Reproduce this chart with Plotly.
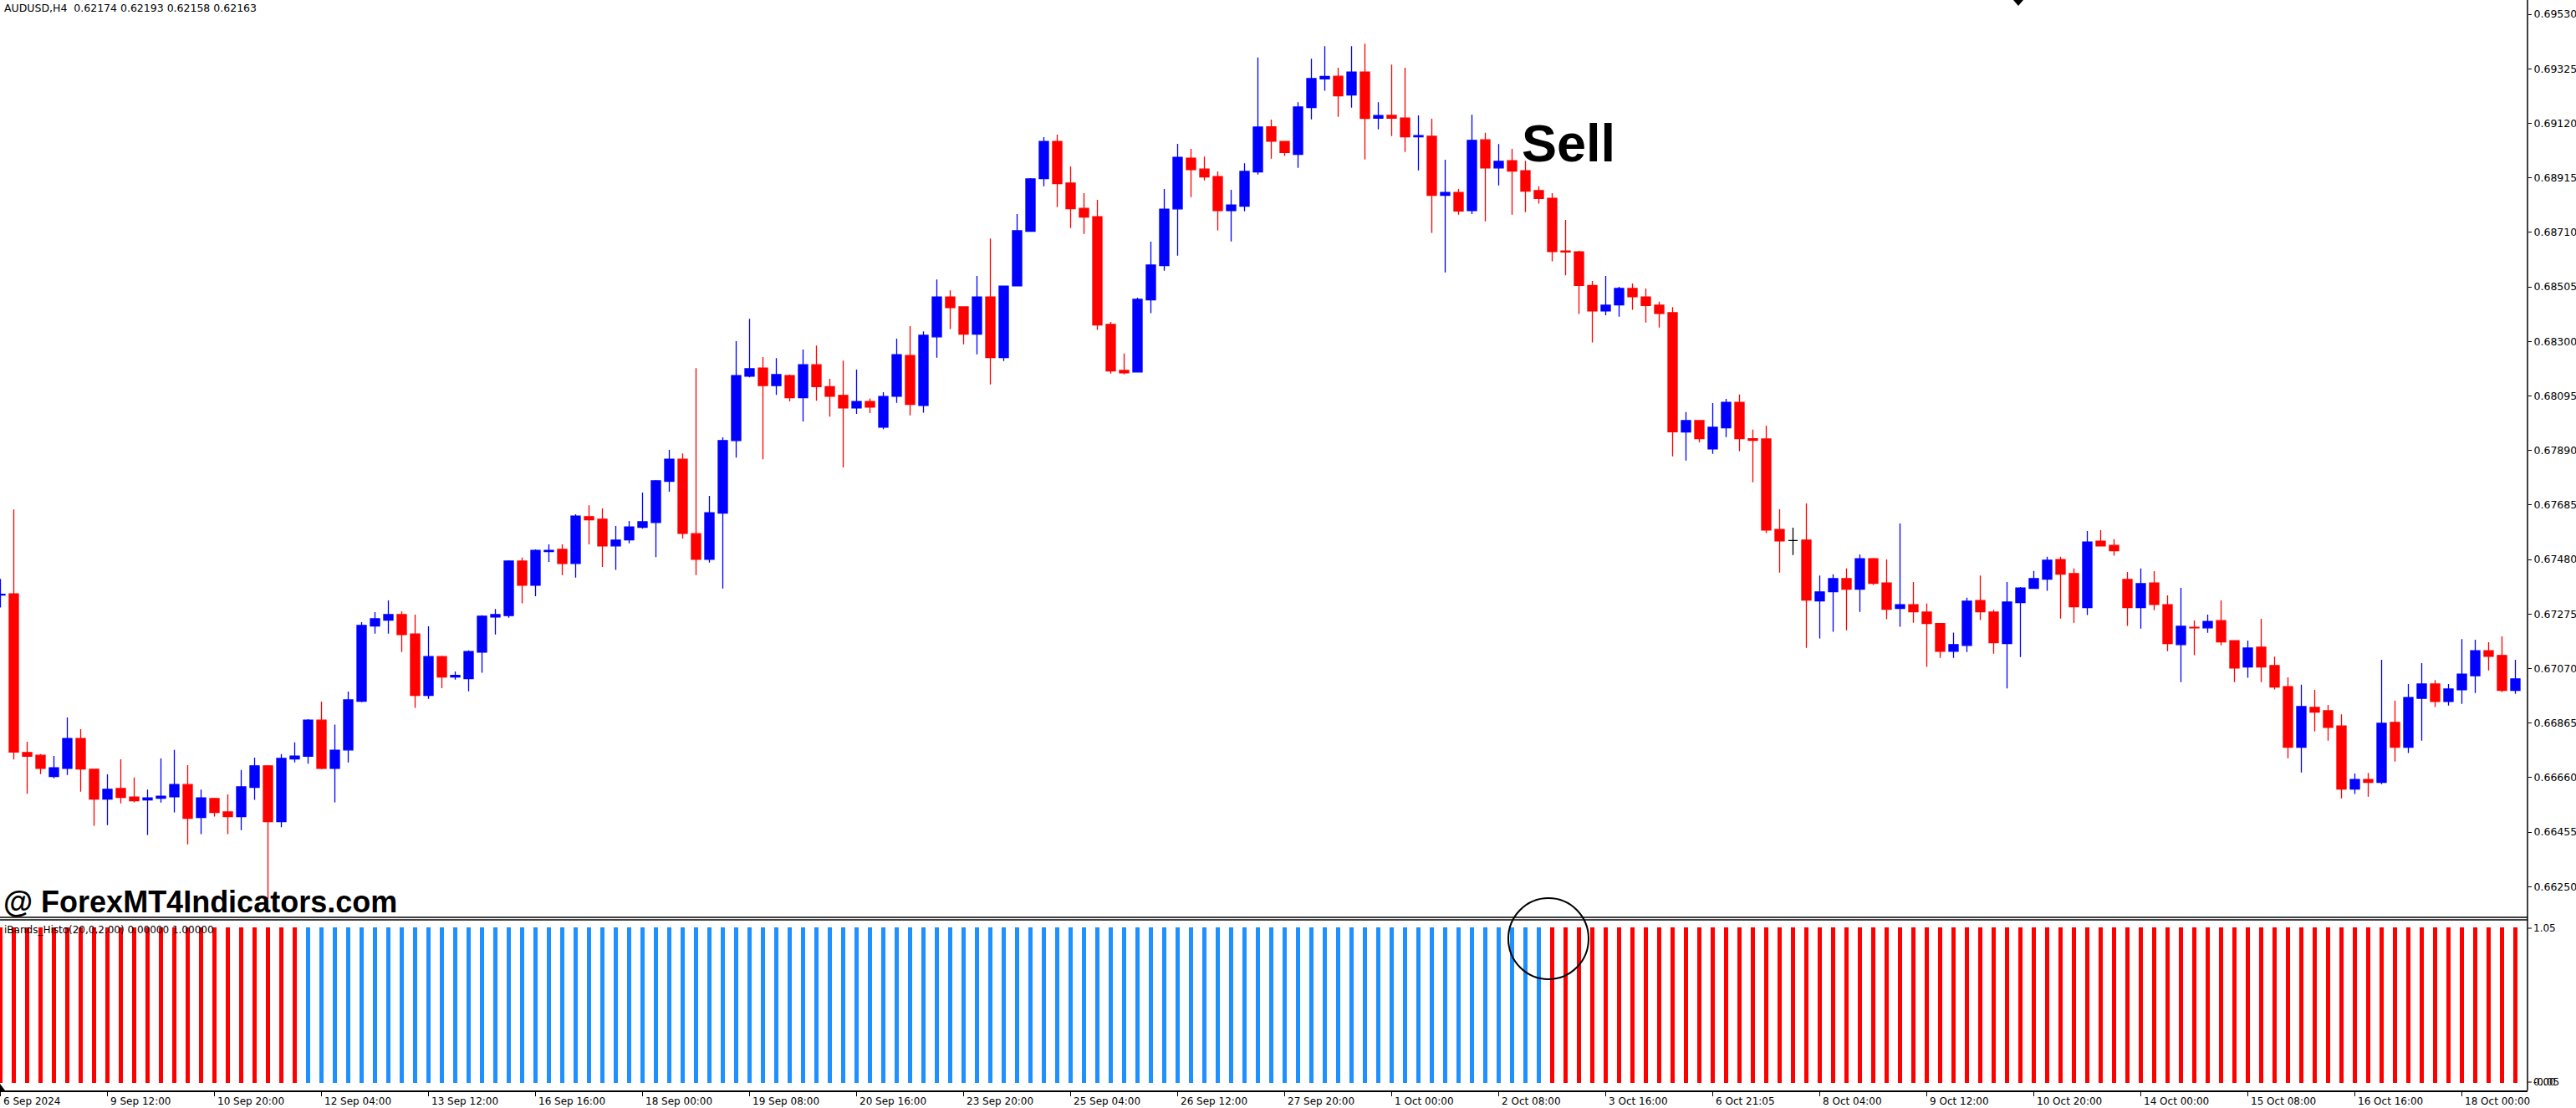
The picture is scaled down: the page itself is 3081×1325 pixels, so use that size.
import plotly.graph_objects as go

# ---------------- data (AUDUSD H4) ----------------
open_ = [
    0.67346, 0.67351, 0.66754, 0.66744, 0.66664, 0.66695, 0.66807, 0.66691, 0.66579, 0.66619,
    0.66587, 0.66576, 0.66582, 0.66588, 0.66634, 0.66510, 0.66581, 0.66531, 0.66513, 0.66623,
    0.66704, 0.66494, 0.66730, 0.66740, 0.66876, 0.66695, 0.66764, 0.66947, 0.67230, 0.67252,
    0.67273, 0.67200, 0.66969, 0.67115, 0.67038, 0.67032, 0.67132, 0.67264, 0.67269, 0.67474,
    0.67383, 0.67510, 0.67518, 0.67465, 0.67641, 0.67631, 0.67531, 0.67554, 0.67601, 0.67619,
    0.67774, 0.67857, 0.67577, 0.67481, 0.67654, 0.67927, 0.68169, 0.68200, 0.68134, 0.68171,
    0.68088, 0.68212, 0.68130, 0.68097, 0.68050, 0.68074, 0.67977, 0.68094, 0.68247, 0.68059,
    0.68317, 0.68467, 0.68430, 0.68327, 0.68467, 0.68239, 0.68509, 0.68714, 0.68912, 0.69052,
    0.68895, 0.68800, 0.68769, 0.68364, 0.68191, 0.68185, 0.68456, 0.68585, 0.68798, 0.68989,
    0.68948, 0.68920, 0.68792, 0.68808, 0.68937, 0.69107, 0.69052, 0.69003, 0.69179, 0.69287,
    0.69297, 0.69226, 0.69313, 0.69139, 0.69150, 0.69140, 0.69069, 0.69071, 0.68849, 0.68860,
    0.68792, 0.69058, 0.68952, 0.68979, 0.68942, 0.68867, 0.68838, 0.68640, 0.68637, 0.68510,
    0.68414, 0.68437, 0.68499, 0.68467, 0.68436, 0.68408, 0.67959, 0.68002, 0.67896, 0.67975,
    0.68071, 0.67934, 0.67933, 0.67593, 0.67551, 0.67553, 0.67324, 0.67359, 0.67408, 0.67368,
    0.67483, 0.67392, 0.67296, 0.67310, 0.67282, 0.67239, 0.67135, 0.67157, 0.67326, 0.67282,
    0.67164, 0.67318, 0.67371, 0.67406, 0.67480, 0.67427, 0.67299, 0.67549, 0.67533, 0.67405,
    0.67299, 0.67392, 0.67310, 0.67160, 0.67225, 0.67223, 0.67250, 0.67175, 0.67076, 0.67150,
    0.67081, 0.67002, 0.66774, 0.66924, 0.66911, 0.66854, 0.66617, 0.66653, 0.66642, 0.66867,
    0.66774, 0.66958, 0.67012, 0.66946, 0.66990, 0.67043, 0.67137, 0.67119, 0.66988,
]
high = [
    0.67407, 0.67668, 0.66795, 0.66748, 0.66741, 0.66886, 0.66842, 0.66693, 0.66672, 0.66729,
    0.66660, 0.66615, 0.66732, 0.66764, 0.66707, 0.66615, 0.66584, 0.66597, 0.66689, 0.66735,
    0.66707, 0.66748, 0.66792, 0.66880, 0.66946, 0.66859, 0.66983, 0.67244, 0.67282, 0.67326,
    0.67285, 0.67273, 0.67229, 0.67118, 0.67059, 0.67138, 0.67270, 0.67294, 0.67477, 0.67487,
    0.67518, 0.67537, 0.67537, 0.67650, 0.67684, 0.67672, 0.67606, 0.67625, 0.67732, 0.67779,
    0.67892, 0.67879, 0.68199, 0.67719, 0.67939, 0.68301, 0.68385, 0.68241, 0.68237, 0.68175,
    0.68269, 0.68284, 0.68159, 0.68228, 0.68194, 0.68085, 0.68109, 0.68310, 0.68357, 0.68338,
    0.68533, 0.68492, 0.68432, 0.68546, 0.68687, 0.68510, 0.68779, 0.68914, 0.69068, 0.69077,
    0.68958, 0.68857, 0.68832, 0.68373, 0.68254, 0.68464, 0.68675, 0.68873, 0.69043, 0.69024,
    0.68995, 0.68939, 0.68870, 0.68970, 0.69367, 0.69134, 0.69053, 0.69199, 0.69363, 0.69410,
    0.69329, 0.69410, 0.69419, 0.69199, 0.69341, 0.69329, 0.69150, 0.69137, 0.68983, 0.68873,
    0.69152, 0.69084, 0.69042, 0.69024, 0.68979, 0.68883, 0.68857, 0.68757, 0.68640, 0.68527,
    0.68546, 0.68505, 0.68518, 0.68499, 0.68449, 0.68429, 0.68034, 0.68004, 0.68068, 0.68084,
    0.68100, 0.67968, 0.67983, 0.67669, 0.67600, 0.67691, 0.67420, 0.67424, 0.67446, 0.67499,
    0.67486, 0.67480, 0.67615, 0.67395, 0.67314, 0.67241, 0.67205, 0.67336, 0.67420, 0.67291,
    0.67395, 0.67376, 0.67437, 0.67490, 0.67490, 0.67446, 0.67587, 0.67590, 0.67556, 0.67433,
    0.67446, 0.67436, 0.67345, 0.67373, 0.67251, 0.67273, 0.67326, 0.67177, 0.67175, 0.67257,
    0.67115, 0.67037, 0.67009, 0.66990, 0.66933, 0.66898, 0.66675, 0.66678, 0.67103, 0.66949,
    0.67012, 0.67090, 0.67027, 0.67012, 0.67181, 0.67178, 0.67169, 0.67191, 0.67103,
]
low = [
    0.67299, 0.66728, 0.66599, 0.66673, 0.66657, 0.66670, 0.66607, 0.66479, 0.66481, 0.66563,
    0.66567, 0.66444, 0.66566, 0.66529, 0.66409, 0.66447, 0.66513, 0.66447, 0.66462, 0.66576,
    0.66204, 0.66473, 0.66717, 0.66712, 0.66692, 0.66567, 0.66717, 0.66943, 0.67201, 0.67201,
    0.67132, 0.66922, 0.66956, 0.66996, 0.67028, 0.66984, 0.67054, 0.67198, 0.67261, 0.67315,
    0.67342, 0.67471, 0.67421, 0.67412, 0.67537, 0.67452, 0.67441, 0.67541, 0.67596, 0.67489,
    0.67735, 0.67559, 0.67421, 0.67468, 0.67371, 0.67863, 0.68165, 0.67857, 0.68099, 0.68074,
    0.67999, 0.68077, 0.68017, 0.67826, 0.68027, 0.68030, 0.67970, 0.68069, 0.68022, 0.68032,
    0.68239, 0.68346, 0.68289, 0.68251, 0.68138, 0.68226, 0.68507, 0.68712, 0.68883, 0.68805,
    0.68726, 0.68704, 0.68343, 0.68179, 0.68176, 0.68183, 0.68406, 0.68566, 0.68622, 0.68842,
    0.68905, 0.68717, 0.68676, 0.68789, 0.68927, 0.68987, 0.68997, 0.68952, 0.69135, 0.69242,
    0.69144, 0.69179, 0.68984, 0.69097, 0.69072, 0.69012, 0.68943, 0.68708, 0.68559, 0.68776,
    0.68779, 0.68751, 0.68886, 0.68776, 0.68786, 0.68818, 0.68601, 0.68548, 0.68403, 0.68296,
    0.68398, 0.68393, 0.68419, 0.68371, 0.68352, 0.67868, 0.67852, 0.67920, 0.67877, 0.67940,
    0.67887, 0.67770, 0.67579, 0.67431, 0.67497, 0.67148, 0.67183, 0.67208, 0.67214, 0.67283,
    0.67384, 0.67255, 0.67227, 0.67242, 0.67076, 0.67110, 0.67110, 0.67132, 0.67252, 0.67126,
    0.66995, 0.67113, 0.67369, 0.67362, 0.67258, 0.67242, 0.67271, 0.67529, 0.67494, 0.67230,
    0.67220, 0.67289, 0.67135, 0.67019, 0.67120, 0.67204, 0.67157, 0.67019, 0.67035, 0.67019,
    0.66991, 0.66733, 0.66679, 0.66833, 0.66799, 0.66582, 0.66598, 0.66588, 0.66635, 0.66720,
    0.66752, 0.66799, 0.66925, 0.66931, 0.66937, 0.66978, 0.67063, 0.66981, 0.66975,
]
close = [
    0.67349, 0.66756, 0.66740, 0.66695, 0.66697, 0.66807, 0.66692, 0.66579, 0.66616, 0.66585,
    0.66573, 0.66584, 0.66590, 0.66634, 0.66507, 0.66584, 0.66529, 0.66513, 0.66625, 0.66704,
    0.66494, 0.66732, 0.66741, 0.66876, 0.66695, 0.66763, 0.66952, 0.67232, 0.67257, 0.67273,
    0.67198, 0.66969, 0.67115, 0.67038, 0.67044, 0.67134, 0.67267, 0.67273, 0.67474, 0.67383,
    0.67514, 0.67514, 0.67465, 0.67643, 0.67629, 0.67531, 0.67553, 0.67602, 0.67622, 0.67776,
    0.67857, 0.67578, 0.67481, 0.67656, 0.67927, 0.68171, 0.68197, 0.68134, 0.68175, 0.68088,
    0.68212, 0.68130, 0.68094, 0.68050, 0.68074, 0.68053, 0.68093, 0.68250, 0.68063, 0.68323,
    0.68467, 0.68427, 0.68327, 0.68467, 0.68239, 0.68508, 0.68716, 0.68911, 0.69052, 0.68893,
    0.68799, 0.68767, 0.68362, 0.68189, 0.68182, 0.68458, 0.68587, 0.68797, 0.68992, 0.68946,
    0.68918, 0.68792, 0.68813, 0.68939, 0.69106, 0.69053, 0.69010, 0.69181, 0.69288, 0.69296,
    0.69223, 0.69313, 0.69138, 0.69149, 0.69139, 0.69069, 0.69074, 0.68849, 0.68860, 0.68790,
    0.69056, 0.68952, 0.68977, 0.68940, 0.68865, 0.68837, 0.68638, 0.68636, 0.68510, 0.68414,
    0.68436, 0.68499, 0.68468, 0.68435, 0.68405, 0.67960, 0.68002, 0.67934, 0.67977, 0.68071,
    0.67934, 0.67928, 0.67591, 0.67550, 0.67551, 0.67327, 0.67358, 0.67408, 0.67368, 0.67483,
    0.67390, 0.67293, 0.67310, 0.67283, 0.67239, 0.67135, 0.67160, 0.67323, 0.67283, 0.67167,
    0.67320, 0.67373, 0.67408, 0.67477, 0.67425, 0.67302, 0.67546, 0.67531, 0.67513, 0.67299,
    0.67389, 0.67311, 0.67164, 0.67229, 0.67223, 0.67247, 0.67170, 0.67072, 0.67147, 0.67076,
    0.67000, 0.66774, 0.66927, 0.66906, 0.66849, 0.66617, 0.66653, 0.66642, 0.66864, 0.66774,
    0.66961, 0.67012, 0.66946, 0.66993, 0.67049, 0.67137, 0.67116, 0.66988, 0.67031,
]

# iBands_Histo indicator: state per bar ("dn" = red, "up" = blue), value 1.0
hist_state = ["dn"] * 23 + ["up"] * 93 + ["dn"] * 73
hist_value = [1.0] * 189

# time axis labels (every 8th H4 bar)
time_labels = [
    "6 Sep 2024", "9 Sep 12:00", "10 Sep 20:00", "12 Sep 04:00", "13 Sep 12:00",
    "16 Sep 16:00", "18 Sep 00:00", "19 Sep 08:00", "20 Sep 16:00", "23 Sep 20:00",
    "25 Sep 04:00", "26 Sep 12:00", "27 Sep 20:00", "1 Oct 00:00", "2 Oct 08:00",
    "3 Oct 16:00", "6 Oct 21:05", "8 Oct 04:00", "9 Oct 12:00", "10 Oct 20:00",
    "14 Oct 00:00", "15 Oct 08:00", "16 Oct 16:00", "18 Oct 00:00",
]
time_label_step = 8

price_ticks = [
    0.69530, 0.69325, 0.69120, 0.68915, 0.68710, 0.68505, 0.68300, 0.68095, 0.67890,
    0.67685, 0.67480, 0.67275, 0.67070, 0.66865, 0.66660, 0.66455, 0.66250,
]

title_text = "AUDUSD,H4  0.62174 0.62193 0.62158 0.62163"
indicator_text = "iBands_Histo(20,0,2.00) 0.00000 1.00000"

# ---------------- layout geometry (pixels) ----------------
W, H = 3081, 1325
M_L, M_R, M_T, M_B = 0, 58, 0, 21
PW, PH = W - M_L - M_R, H - M_T - M_B      # plot area 3023 x 1304
BAR_PX = 16.0
X0 = -0.031
x_range = [X0, X0 + PW / BAR_PX]
price_bottom_px = 1097
hist_top_px = 1100
price_range = [0.661345, 0.695835]


def px(x):
    return (x - M_L) / PW


def py(y):
    return 1 - (y - M_T) / PH


n = len(open_)
idx = list(range(n))
reg = [i for i in idx if open_[i] != close[i]]
doj = [i for i in idx if open_[i] == close[i]]

fig = go.Figure()


def pick(arr, ids):
    return [arr[i] for i in ids]


fig.add_trace(go.Candlestick(
    x=reg, open=pick(open_, reg), high=pick(high, reg), low=pick(low, reg), close=pick(close, reg),
    increasing=dict(line=dict(color="#0000FF", width=1.3), fillcolor="#0000FF"),
    decreasing=dict(line=dict(color="#FF0000", width=1.3), fillcolor="#FF0000"),
    whiskerwidth=0, xaxis="x", yaxis="y", hoverinfo="skip", showlegend=False,
))
if doj:
    fig.add_trace(go.Candlestick(
        x=doj, open=pick(open_, doj), high=pick(high, doj), low=pick(low, doj), close=pick(close, doj),
        increasing=dict(line=dict(color="#000000", width=1.3), fillcolor="#000000"),
        decreasing=dict(line=dict(color="#000000", width=1.3), fillcolor="#000000"),
        whiskerwidth=0, xaxis="x", yaxis="y", hoverinfo="skip", showlegend=False,
    ))

fig.add_trace(go.Bar(
    x=idx, y=hist_value, width=0.27,
    marker=dict(color=["#1E90FF" if s == "up" else "#FF0000" for s in hist_state], line=dict(width=0)),
    xaxis="x2", yaxis="y2", hoverinfo="skip", showlegend=False,
))

tick_pos = [k * time_label_step for k in range(len(time_labels))]

TXT = dict(family="DejaVu Sans", color="#000000")

annotations = []
for pos, lab in zip(tick_pos, time_labels):
    annotations.append(dict(
        x=pos, xref="x2", y=py(1317), yref="paper", text=lab, showarrow=False,
        xanchor="left", yanchor="middle", xshift=1, font=dict(TXT, size=12),
    ))

annotations += [
    dict(x=px(3), y=py(10), xref="paper", yref="paper", text=title_text, showarrow=False,
         xanchor="left", yanchor="middle", font=dict(TXT, size=12.5)),
    dict(x=px(1876), y=py(171), xref="paper", yref="paper", text="<b>Sell</b>", showarrow=False,
         xanchor="center", yanchor="middle",
         font=dict(family="Liberation Sans", size=63, color="#000000")),
    dict(x=px(2), y=py(1078), xref="paper", yref="paper", text="<b>@ ForexMT4Indicators.com</b>",
         showarrow=False, xanchor="left", yanchor="middle",
         font=dict(family="Liberation Sans", size=36, color="#000000")),
    dict(x=px(3), y=py(1112), xref="paper", yref="paper", text=indicator_text, showarrow=False,
         xanchor="left", yanchor="middle", font=dict(TXT, size=12)),
    dict(x=px(3028), y=py(1110), xref="paper", yref="paper", text="1.05", showarrow=False,
         xanchor="left", yanchor="middle", font=dict(TXT, size=12)),
    dict(x=px(3028), y=py(1294), xref="paper", yref="paper", text="0.00", showarrow=False,
         xanchor="left", yanchor="middle", font=dict(TXT, size=12)),
    dict(x=px(3028), y=py(1294), xref="paper", yref="paper", text="-0.05", showarrow=False,
         xanchor="left", yanchor="middle", font=dict(TXT, size=12)),
]

shapes = [
    dict(type="line", xref="paper", yref="paper", x0=0, x1=1, y0=py(price_bottom_px), y1=py(price_bottom_px),
         line=dict(color="#000000", width=1.5)),
    dict(type="line", xref="paper", yref="paper", x0=0, x1=1, y0=py(hist_top_px), y1=py(hist_top_px),
         line=dict(color="#000000", width=1.5)),
    dict(type="line", xref="paper", yref="paper", x0=1, x1=1, y0=0, y1=1,
         line=dict(color="#000000", width=1.5)),
    dict(type="circle", xref="paper", yref="paper", x0=px(1804), x1=px(1900), y0=py(1171), y1=py(1074),
         line=dict(color="#000000", width=2)),
    dict(type="line", xref="paper", yref="paper", x0=1, x1=px(PW + 5), y0=py(1110), y1=py(1110),
         line=dict(color="#000000", width=1)),
    dict(type="line", xref="paper", yref="paper", x0=1, x1=px(PW + 5), y0=py(1294), y1=py(1294),
         line=dict(color="#000000", width=1)),
    # small chart-shift triangle at bottom-left
    dict(type="path", xref="paper", yref="paper",
         path=f"M {px(0)},{py(1304)} L {px(6)},{py(1304)} L {px(0)},{py(1296)} Z",
         fillcolor="#000000", line=dict(color="#000000", width=0)),
    # small black diamond object at the top edge
    dict(type="path", xref="paper", yref="paper",
         path=(f"M {px(2408)},{py(0)} L {px(2420)},{py(0)} L {px(2414)},{py(7)} Z"),
         fillcolor="#000000", line=dict(color="#000000", width=0)),
]

fig.update_layout(
    width=W, height=H,
    margin=dict(l=M_L, r=M_R, t=M_T, b=M_B, pad=0),
    paper_bgcolor="#FFFFFF", plot_bgcolor="#FFFFFF",
    boxgap=0.31, boxgroupgap=0,
    xaxis=dict(domain=[0, 1], range=x_range, anchor="y", showgrid=False, zeroline=False,
               showticklabels=False, ticks="", showline=False, rangeslider=dict(visible=False)),
    yaxis=dict(domain=[py(price_bottom_px), 1], range=price_range, side="right", anchor="x",
               showgrid=False, zeroline=False, tickvals=price_ticks,
               ticktext=[f"{v:.5f}" for v in price_ticks], ticks="outside", ticklen=4,
               tickcolor="#000000", tickwidth=1, showline=False,
               tickfont=dict(TXT, size=12.5)),
    xaxis2=dict(domain=[0, 1], range=x_range, anchor="y2", showgrid=False, zeroline=False,
                tickvals=tick_pos, showticklabels=False, ticks="outside", ticklen=5,
                tickcolor="#000000", tickwidth=1, showline=True, linecolor="#000000", linewidth=1.5),
    yaxis2=dict(domain=[0, py(hist_top_px)], range=[-0.05, 1.05], side="right", anchor="x2",
                showgrid=False, zeroline=False, showticklabels=False, ticks="", showline=False),
    annotations=annotations,
    shapes=shapes,
    bargap=0,
)

fig.write_html(
    "out.html",
    config={"displayModeBar": False},
    post_script="document.body.style.margin='0';document.body.style.overflow='hidden';",
)
